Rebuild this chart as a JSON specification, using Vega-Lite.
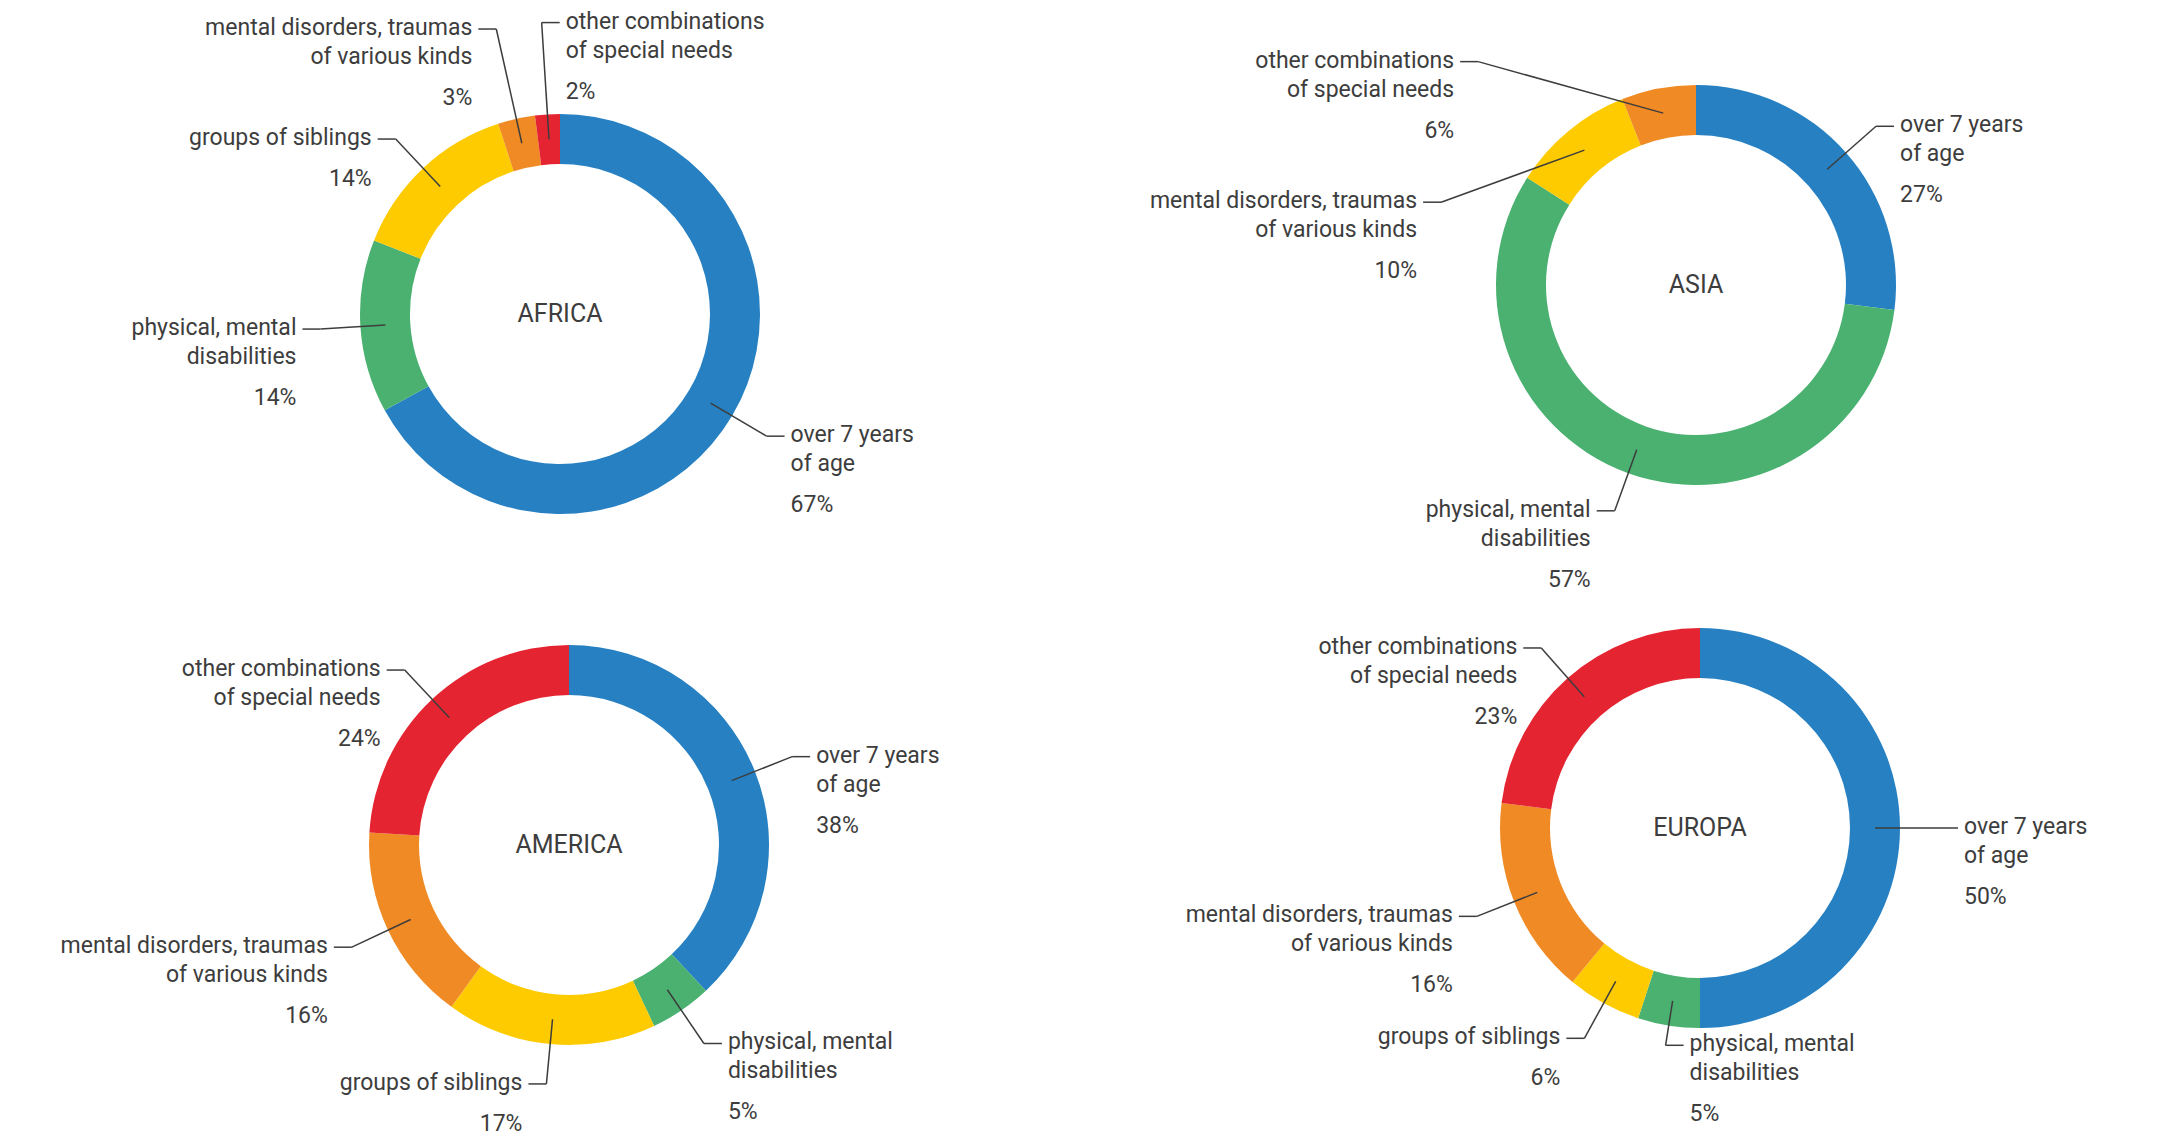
{
  "$schema": "https://vega.github.io/schema/vega-lite/v6.json",
  "padding": 0,
  "background": "white",
  "config": {
    "view": {"stroke": null},
    "text": {"font": "Roboto", "fontSize": 23, "color": "#3d3d3d", "lineHeight": 29}
  },
  "data": {
    "values": [
      {"region": "AFRICA", "order": 1, "label": "over 7 years|of age", "value": 67},
      {"region": "AFRICA", "order": 2, "label": "physical, mental|disabilities", "value": 14},
      {"region": "AFRICA", "order": 3, "label": "groups of siblings", "value": 14},
      {"region": "AFRICA", "order": 4, "label": "mental disorders, traumas|of various kinds", "value": 3},
      {"region": "AFRICA", "order": 5, "label": "other combinations|of special needs", "value": 2},
      {"region": "ASIA", "order": 1, "label": "over 7 years|of age", "value": 27},
      {"region": "ASIA", "order": 2, "label": "physical, mental|disabilities", "value": 57},
      {"region": "ASIA", "order": 3, "label": "mental disorders, traumas|of various kinds", "value": 10},
      {"region": "ASIA", "order": 4, "label": "other combinations|of special needs", "value": 6},
      {"region": "AMERICA", "order": 1, "label": "over 7 years|of age", "value": 38},
      {"region": "AMERICA", "order": 2, "label": "physical, mental|disabilities", "value": 5},
      {"region": "AMERICA", "order": 3, "label": "groups of siblings", "value": 17},
      {"region": "AMERICA", "order": 4, "label": "mental disorders, traumas|of various kinds", "value": 16},
      {"region": "AMERICA", "order": 5, "label": "other combinations|of special needs", "value": 24},
      {"region": "EUROPA", "order": 1, "label": "over 7 years|of age", "value": 50},
      {"region": "EUROPA", "order": 2, "label": "physical, mental|disabilities", "value": 5},
      {"region": "EUROPA", "order": 3, "label": "groups of siblings", "value": 6},
      {"region": "EUROPA", "order": 4, "label": "mental disorders, traumas|of various kinds", "value": 16},
      {"region": "EUROPA", "order": 5, "label": "other combinations|of special needs", "value": 23}
    ]
  },
  "transform": [
    {"stack": "value", "groupby": ["region"], "sort": [{"field": "order", "order": "ascending"}], "as": ["v0", "v1"]},
    {"calculate": "(datum.v0 + datum.v1) / 2", "as": "mid"},
    {"calculate": "datum.region === 'ASIA' && datum.order === 3 ? 80 : (datum.region === 'ASIA' && datum.order === 4 ? 87.7 : datum.mid)", "as": "la"},
    {"calculate": "datum.region === 'AFRICA' && datum.order >= 4 ? 292 : (datum.region === 'ASIA' && datum.order === 3 ? 268 : (datum.region === 'ASIA' && datum.order === 4 ? 312 : (datum.region === 'EUROPA' && datum.order === 2 ? 220 : 240)))", "as": "re"},
    {"calculate": "(datum.region === 'AFRICA' && datum.order === 5) || (datum.region === 'EUROPA' && datum.order === 2) ? 1 : (datum.la < 50 ? 1 : -1)", "as": "side"},
    {"calculate": "2 * PI * datum.mid / 100", "as": "a0"},
    {"calculate": "2 * PI * datum.la / 100", "as": "a1"},
    {"calculate": "175 * sin(datum.a0)", "as": "x0"},
    {"calculate": "-175 * cos(datum.a0)", "as": "y0"},
    {"calculate": "datum.re * sin(datum.a1)", "as": "x1"},
    {"calculate": "-datum.re * cos(datum.a1)", "as": "y1"},
    {"calculate": "datum.x1 + datum.side * 18", "as": "x2"},
    {"calculate": "datum.x1 + datum.side * 24", "as": "xt"},
    {"calculate": "split(datum.label, '|')", "as": "lines"},
    {"calculate": "datum.y1 + (length(datum.lines) > 1 ? 58 : 29)", "as": "yp"},
    {"calculate": "datum.value + '%'", "as": "pct"}
  ],
  "spacing": 0,
  "vconcat": [
    {
      "spacing": 0,
      "bounds": "flush",
      "hconcat": [
        {
          "width": 1120, "height": 628,
          "transform": [{"filter": "datum.region === 'AFRICA'"}],
          "layer": [
            {"mark": {"type": "arc", "innerRadius": 150, "outerRadius": 200},
             "encoding": {
               "x": {"datum": 0, "type": "quantitative", "scale": {"domain": [-560, 560], "nice": false, "zero": false}, "axis": null},
               "y": {"datum": 0, "type": "quantitative", "scale": {"domain": [-314, 314], "nice": false, "zero": false, "reverse": true}, "axis": null},
               "theta": {"field": "v0", "type": "quantitative", "scale": {"domain": [0, 100]}, "stack": null},
               "theta2": {"field": "v1"},
               "color": {"field": "order", "type": "nominal", "scale": {"domain": [1, 2, 3, 4, 5], "range": ["#2680C2", "#4AB170", "#FECB00", "#F08A25", "#E52431"]}, "legend": null}
             }},
            {"mark": {"type": "rule", "color": "#3d3d3d", "strokeWidth": 1.5},
             "encoding": {
               "x": {"field": "x0", "type": "quantitative", "scale": {"domain": [-560, 560], "nice": false, "zero": false}, "axis": null},
               "y": {"field": "y0", "type": "quantitative", "scale": {"domain": [-314, 314], "nice": false, "zero": false, "reverse": true}, "axis": null},
               "x2": {"field": "x1"}, "y2": {"field": "y1"}
             }},
            {"mark": {"type": "rule", "color": "#3d3d3d", "strokeWidth": 1.5},
             "encoding": {
               "x": {"field": "x1", "type": "quantitative", "scale": {"domain": [-560, 560], "nice": false, "zero": false}, "axis": null},
               "y": {"field": "y1", "type": "quantitative", "scale": {"domain": [-314, 314], "nice": false, "zero": false, "reverse": true}, "axis": null},
               "x2": {"field": "x2"}, "y2": {"field": "y1"}
             }},
            {"transform": [{"filter": "datum.side > 0"}],
             "mark": {"type": "text", "align": "left", "baseline": "top", "dy": -12},
             "encoding": {
               "x": {"field": "xt", "type": "quantitative", "scale": {"domain": [-560, 560], "nice": false, "zero": false}, "axis": null},
               "y": {"field": "y1", "type": "quantitative", "scale": {"domain": [-314, 314], "nice": false, "zero": false, "reverse": true}, "axis": null},
               "text": {"field": "lines", "type": "nominal"}
             }},
            {"transform": [{"filter": "datum.side < 0"}],
             "mark": {"type": "text", "align": "right", "baseline": "top", "dy": -12},
             "encoding": {
               "x": {"field": "xt", "type": "quantitative", "scale": {"domain": [-560, 560], "nice": false, "zero": false}, "axis": null},
               "y": {"field": "y1", "type": "quantitative", "scale": {"domain": [-314, 314], "nice": false, "zero": false, "reverse": true}, "axis": null},
               "text": {"field": "lines", "type": "nominal"}
             }},
            {"transform": [{"filter": "datum.side > 0"}],
             "mark": {"type": "text", "align": "left", "baseline": "top"},
             "encoding": {
               "x": {"field": "xt", "type": "quantitative", "scale": {"domain": [-560, 560], "nice": false, "zero": false}, "axis": null},
               "y": {"field": "yp", "type": "quantitative", "scale": {"domain": [-314, 314], "nice": false, "zero": false, "reverse": true}, "axis": null},
               "text": {"field": "pct", "type": "nominal"}
             }},
            {"transform": [{"filter": "datum.side < 0"}],
             "mark": {"type": "text", "align": "right", "baseline": "top"},
             "encoding": {
               "x": {"field": "xt", "type": "quantitative", "scale": {"domain": [-560, 560], "nice": false, "zero": false}, "axis": null},
               "y": {"field": "yp", "type": "quantitative", "scale": {"domain": [-314, 314], "nice": false, "zero": false, "reverse": true}, "axis": null},
               "text": {"field": "pct", "type": "nominal"}
             }},
            {"transform": [{"filter": "datum.order === 1"}],
             "mark": {"type": "text", "align": "center", "baseline": "middle", "fontSize": 25},
             "encoding": {
               "x": {"datum": 0, "type": "quantitative", "scale": {"domain": [-560, 560], "nice": false, "zero": false}, "axis": null},
               "y": {"datum": 0, "type": "quantitative", "scale": {"domain": [-314, 314], "nice": false, "zero": false, "reverse": true}, "axis": null},
               "text": {"field": "region", "type": "nominal"}
             }}
          ]
        },
        {
          "width": 1152, "height": 570,
          "transform": [{"filter": "datum.region === 'ASIA'"}],
          "layer": [
            {"mark": {"type": "arc", "innerRadius": 150, "outerRadius": 200},
             "encoding": {
               "x": {"datum": 0, "type": "quantitative", "scale": {"domain": [-576, 576], "nice": false, "zero": false}, "axis": null},
               "y": {"datum": 0, "type": "quantitative", "scale": {"domain": [-285, 285], "nice": false, "zero": false, "reverse": true}, "axis": null},
               "theta": {"field": "v0", "type": "quantitative", "scale": {"domain": [0, 100]}, "stack": null},
               "theta2": {"field": "v1"},
               "color": {"field": "order", "type": "nominal", "scale": {"domain": [1, 2, 3, 4, 5], "range": ["#2680C2", "#4AB170", "#FECB00", "#F08A25", "#E52431"]}, "legend": null}
             }},
            {"mark": {"type": "rule", "color": "#3d3d3d", "strokeWidth": 1.5},
             "encoding": {
               "x": {"field": "x0", "type": "quantitative", "scale": {"domain": [-576, 576], "nice": false, "zero": false}, "axis": null},
               "y": {"field": "y0", "type": "quantitative", "scale": {"domain": [-285, 285], "nice": false, "zero": false, "reverse": true}, "axis": null},
               "x2": {"field": "x1"}, "y2": {"field": "y1"}
             }},
            {"mark": {"type": "rule", "color": "#3d3d3d", "strokeWidth": 1.5},
             "encoding": {
               "x": {"field": "x1", "type": "quantitative", "scale": {"domain": [-576, 576], "nice": false, "zero": false}, "axis": null},
               "y": {"field": "y1", "type": "quantitative", "scale": {"domain": [-285, 285], "nice": false, "zero": false, "reverse": true}, "axis": null},
               "x2": {"field": "x2"}, "y2": {"field": "y1"}
             }},
            {"transform": [{"filter": "datum.side > 0"}],
             "mark": {"type": "text", "align": "left", "baseline": "top", "dy": -12},
             "encoding": {
               "x": {"field": "xt", "type": "quantitative", "scale": {"domain": [-576, 576], "nice": false, "zero": false}, "axis": null},
               "y": {"field": "y1", "type": "quantitative", "scale": {"domain": [-285, 285], "nice": false, "zero": false, "reverse": true}, "axis": null},
               "text": {"field": "lines", "type": "nominal"}
             }},
            {"transform": [{"filter": "datum.side < 0"}],
             "mark": {"type": "text", "align": "right", "baseline": "top", "dy": -12},
             "encoding": {
               "x": {"field": "xt", "type": "quantitative", "scale": {"domain": [-576, 576], "nice": false, "zero": false}, "axis": null},
               "y": {"field": "y1", "type": "quantitative", "scale": {"domain": [-285, 285], "nice": false, "zero": false, "reverse": true}, "axis": null},
               "text": {"field": "lines", "type": "nominal"}
             }},
            {"transform": [{"filter": "datum.side > 0"}],
             "mark": {"type": "text", "align": "left", "baseline": "top"},
             "encoding": {
               "x": {"field": "xt", "type": "quantitative", "scale": {"domain": [-576, 576], "nice": false, "zero": false}, "axis": null},
               "y": {"field": "yp", "type": "quantitative", "scale": {"domain": [-285, 285], "nice": false, "zero": false, "reverse": true}, "axis": null},
               "text": {"field": "pct", "type": "nominal"}
             }},
            {"transform": [{"filter": "datum.side < 0"}],
             "mark": {"type": "text", "align": "right", "baseline": "top"},
             "encoding": {
               "x": {"field": "xt", "type": "quantitative", "scale": {"domain": [-576, 576], "nice": false, "zero": false}, "axis": null},
               "y": {"field": "yp", "type": "quantitative", "scale": {"domain": [-285, 285], "nice": false, "zero": false, "reverse": true}, "axis": null},
               "text": {"field": "pct", "type": "nominal"}
             }},
            {"transform": [{"filter": "datum.order === 1"}],
             "mark": {"type": "text", "align": "center", "baseline": "middle", "fontSize": 25},
             "encoding": {
               "x": {"datum": 0, "type": "quantitative", "scale": {"domain": [-576, 576], "nice": false, "zero": false}, "axis": null},
               "y": {"datum": 0, "type": "quantitative", "scale": {"domain": [-285, 285], "nice": false, "zero": false, "reverse": true}, "axis": null},
               "text": {"field": "region", "type": "nominal"}
             }}
          ]
        }
      ]
    },
    {
      "spacing": 0,
      "bounds": "flush",
      "hconcat": [
        {
          "width": 1138, "height": 424,
          "transform": [{"filter": "datum.region === 'AMERICA'"}],
          "layer": [
            {"mark": {"type": "arc", "innerRadius": 150, "outerRadius": 200},
             "encoding": {
               "x": {"datum": 0, "type": "quantitative", "scale": {"domain": [-569, 569], "nice": false, "zero": false}, "axis": null},
               "y": {"datum": 0, "type": "quantitative", "scale": {"domain": [-212, 212], "nice": false, "zero": false, "reverse": true}, "axis": null},
               "theta": {"field": "v0", "type": "quantitative", "scale": {"domain": [0, 100]}, "stack": null},
               "theta2": {"field": "v1"},
               "color": {"field": "order", "type": "nominal", "scale": {"domain": [1, 2, 3, 4, 5], "range": ["#2680C2", "#4AB170", "#FECB00", "#F08A25", "#E52431"]}, "legend": null}
             }},
            {"mark": {"type": "rule", "color": "#3d3d3d", "strokeWidth": 1.5},
             "encoding": {
               "x": {"field": "x0", "type": "quantitative", "scale": {"domain": [-569, 569], "nice": false, "zero": false}, "axis": null},
               "y": {"field": "y0", "type": "quantitative", "scale": {"domain": [-212, 212], "nice": false, "zero": false, "reverse": true}, "axis": null},
               "x2": {"field": "x1"}, "y2": {"field": "y1"}
             }},
            {"mark": {"type": "rule", "color": "#3d3d3d", "strokeWidth": 1.5},
             "encoding": {
               "x": {"field": "x1", "type": "quantitative", "scale": {"domain": [-569, 569], "nice": false, "zero": false}, "axis": null},
               "y": {"field": "y1", "type": "quantitative", "scale": {"domain": [-212, 212], "nice": false, "zero": false, "reverse": true}, "axis": null},
               "x2": {"field": "x2"}, "y2": {"field": "y1"}
             }},
            {"transform": [{"filter": "datum.side > 0"}],
             "mark": {"type": "text", "align": "left", "baseline": "top", "dy": -12},
             "encoding": {
               "x": {"field": "xt", "type": "quantitative", "scale": {"domain": [-569, 569], "nice": false, "zero": false}, "axis": null},
               "y": {"field": "y1", "type": "quantitative", "scale": {"domain": [-212, 212], "nice": false, "zero": false, "reverse": true}, "axis": null},
               "text": {"field": "lines", "type": "nominal"}
             }},
            {"transform": [{"filter": "datum.side < 0"}],
             "mark": {"type": "text", "align": "right", "baseline": "top", "dy": -12},
             "encoding": {
               "x": {"field": "xt", "type": "quantitative", "scale": {"domain": [-569, 569], "nice": false, "zero": false}, "axis": null},
               "y": {"field": "y1", "type": "quantitative", "scale": {"domain": [-212, 212], "nice": false, "zero": false, "reverse": true}, "axis": null},
               "text": {"field": "lines", "type": "nominal"}
             }},
            {"transform": [{"filter": "datum.side > 0"}],
             "mark": {"type": "text", "align": "left", "baseline": "top"},
             "encoding": {
               "x": {"field": "xt", "type": "quantitative", "scale": {"domain": [-569, 569], "nice": false, "zero": false}, "axis": null},
               "y": {"field": "yp", "type": "quantitative", "scale": {"domain": [-212, 212], "nice": false, "zero": false, "reverse": true}, "axis": null},
               "text": {"field": "pct", "type": "nominal"}
             }},
            {"transform": [{"filter": "datum.side < 0"}],
             "mark": {"type": "text", "align": "right", "baseline": "top"},
             "encoding": {
               "x": {"field": "xt", "type": "quantitative", "scale": {"domain": [-569, 569], "nice": false, "zero": false}, "axis": null},
               "y": {"field": "yp", "type": "quantitative", "scale": {"domain": [-212, 212], "nice": false, "zero": false, "reverse": true}, "axis": null},
               "text": {"field": "pct", "type": "nominal"}
             }},
            {"transform": [{"filter": "datum.order === 1"}],
             "mark": {"type": "text", "align": "center", "baseline": "middle", "fontSize": 25},
             "encoding": {
               "x": {"datum": 0, "type": "quantitative", "scale": {"domain": [-569, 569], "nice": false, "zero": false}, "axis": null},
               "y": {"datum": 0, "type": "quantitative", "scale": {"domain": [-212, 212], "nice": false, "zero": false, "reverse": true}, "axis": null},
               "text": {"field": "region", "type": "nominal"}
             }}
          ]
        },
        {
          "width": 1124, "height": 390,
          "transform": [{"filter": "datum.region === 'EUROPA'"}],
          "layer": [
            {"mark": {"type": "arc", "innerRadius": 150, "outerRadius": 200},
             "encoding": {
               "x": {"datum": 0, "type": "quantitative", "scale": {"domain": [-562, 562], "nice": false, "zero": false}, "axis": null},
               "y": {"datum": 0, "type": "quantitative", "scale": {"domain": [-195, 195], "nice": false, "zero": false, "reverse": true}, "axis": null},
               "theta": {"field": "v0", "type": "quantitative", "scale": {"domain": [0, 100]}, "stack": null},
               "theta2": {"field": "v1"},
               "color": {"field": "order", "type": "nominal", "scale": {"domain": [1, 2, 3, 4, 5], "range": ["#2680C2", "#4AB170", "#FECB00", "#F08A25", "#E52431"]}, "legend": null}
             }},
            {"mark": {"type": "rule", "color": "#3d3d3d", "strokeWidth": 1.5},
             "encoding": {
               "x": {"field": "x0", "type": "quantitative", "scale": {"domain": [-562, 562], "nice": false, "zero": false}, "axis": null},
               "y": {"field": "y0", "type": "quantitative", "scale": {"domain": [-195, 195], "nice": false, "zero": false, "reverse": true}, "axis": null},
               "x2": {"field": "x1"}, "y2": {"field": "y1"}
             }},
            {"mark": {"type": "rule", "color": "#3d3d3d", "strokeWidth": 1.5},
             "encoding": {
               "x": {"field": "x1", "type": "quantitative", "scale": {"domain": [-562, 562], "nice": false, "zero": false}, "axis": null},
               "y": {"field": "y1", "type": "quantitative", "scale": {"domain": [-195, 195], "nice": false, "zero": false, "reverse": true}, "axis": null},
               "x2": {"field": "x2"}, "y2": {"field": "y1"}
             }},
            {"transform": [{"filter": "datum.side > 0"}],
             "mark": {"type": "text", "align": "left", "baseline": "top", "dy": -12},
             "encoding": {
               "x": {"field": "xt", "type": "quantitative", "scale": {"domain": [-562, 562], "nice": false, "zero": false}, "axis": null},
               "y": {"field": "y1", "type": "quantitative", "scale": {"domain": [-195, 195], "nice": false, "zero": false, "reverse": true}, "axis": null},
               "text": {"field": "lines", "type": "nominal"}
             }},
            {"transform": [{"filter": "datum.side < 0"}],
             "mark": {"type": "text", "align": "right", "baseline": "top", "dy": -12},
             "encoding": {
               "x": {"field": "xt", "type": "quantitative", "scale": {"domain": [-562, 562], "nice": false, "zero": false}, "axis": null},
               "y": {"field": "y1", "type": "quantitative", "scale": {"domain": [-195, 195], "nice": false, "zero": false, "reverse": true}, "axis": null},
               "text": {"field": "lines", "type": "nominal"}
             }},
            {"transform": [{"filter": "datum.side > 0"}],
             "mark": {"type": "text", "align": "left", "baseline": "top"},
             "encoding": {
               "x": {"field": "xt", "type": "quantitative", "scale": {"domain": [-562, 562], "nice": false, "zero": false}, "axis": null},
               "y": {"field": "yp", "type": "quantitative", "scale": {"domain": [-195, 195], "nice": false, "zero": false, "reverse": true}, "axis": null},
               "text": {"field": "pct", "type": "nominal"}
             }},
            {"transform": [{"filter": "datum.side < 0"}],
             "mark": {"type": "text", "align": "right", "baseline": "top"},
             "encoding": {
               "x": {"field": "xt", "type": "quantitative", "scale": {"domain": [-562, 562], "nice": false, "zero": false}, "axis": null},
               "y": {"field": "yp", "type": "quantitative", "scale": {"domain": [-195, 195], "nice": false, "zero": false, "reverse": true}, "axis": null},
               "text": {"field": "pct", "type": "nominal"}
             }},
            {"transform": [{"filter": "datum.order === 1"}],
             "mark": {"type": "text", "align": "center", "baseline": "middle", "fontSize": 25},
             "encoding": {
               "x": {"datum": 0, "type": "quantitative", "scale": {"domain": [-562, 562], "nice": false, "zero": false}, "axis": null},
               "y": {"datum": 0, "type": "quantitative", "scale": {"domain": [-195, 195], "nice": false, "zero": false, "reverse": true}, "axis": null},
               "text": {"field": "region", "type": "nominal"}
             }}
          ]
        }
      ]
    }
  ]
}
